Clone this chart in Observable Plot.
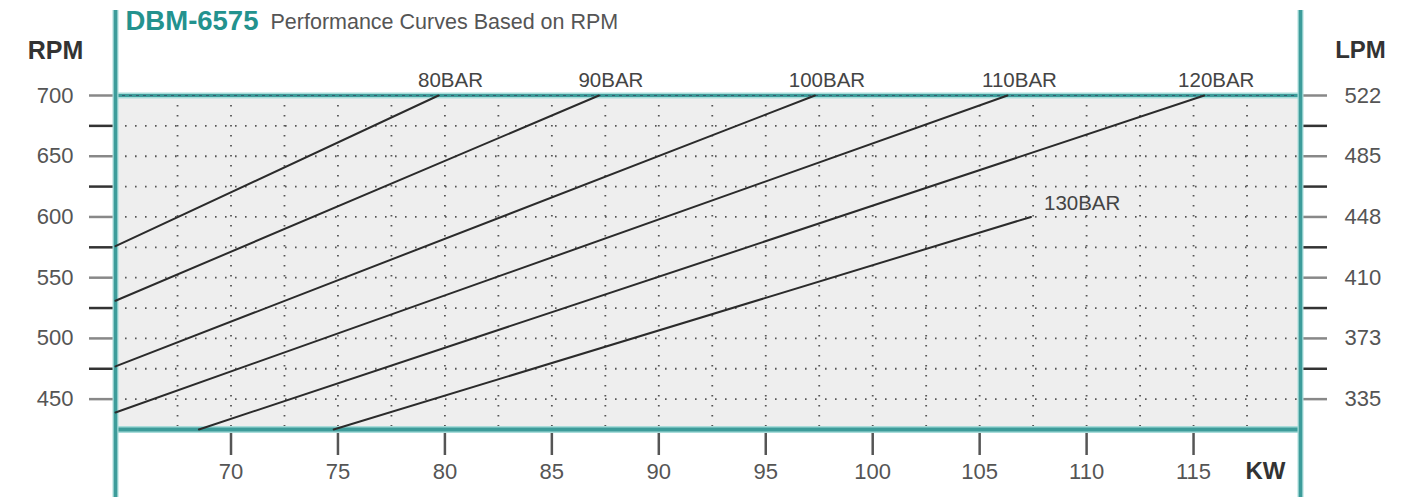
<!DOCTYPE html>
<html><head><meta charset="utf-8">
<script src="https://cdn.jsdelivr.net/npm/d3@7"></script>
<script src="https://cdn.jsdelivr.net/npm/@observablehq/plot@0.6"></script>
<style>html,body{margin:0;padding:0;background:#fff;}</style>
</head><body><div id="chart"></div>
<script>
// ---- data ----
const curveLabels = ["80BAR", "90BAR", "100BAR", "110BAR", "120BAR", "130BAR"];
const startKw  = [64.6, 64.6, 64.6, 64.6, 68.5, 74.8];
const startRpm = [576, 531, 477, 439, 425, 425];
const endKw    = [79.7, 87.2, 97.3, 106.3, 115.5, 107.4];
const endRpm   = [700, 700, 700, 700, 700, 600];

const rpmTicks = [450, 500, 550, 600, 650, 700];
const lpmLabels = [335, 373, 410, 448, 485, 522];
const rpmMinorTicks = [475, 525, 575, 625, 675];
const kwTicks = [70, 75, 80, 85, 90, 95, 100, 105, 110, 115];
const kwGrid = [67.5, 70, 72.5, 75, 77.5, 80, 82.5, 85, 87.5, 90, 92.5, 95, 97.5, 100, 102.5, 105, 107.5, 110, 112.5, 115, 117.5];
const rpmGrid = [450, 475, 500, 525, 550, 575, 600, 625, 650, 675, 700];
const kwDomain = [64.6, 120];
const rpmDomain = [425, 700];
const modelName = "DBM-6575";
const chartTitle = "Performance Curves Based on RPM";

// ---- derived tables ----
const segments = curveLabels.flatMap((c, i) => [
  {curve: c, kw: startKw[i], rpm: startRpm[i]},
  {curve: c, kw: endKw[i], rpm: endRpm[i]}
]);
const ends = curveLabels.map((c, i) => ({curve: c, kw: endKw[i], rpm: endRpm[i]}));
const topEnds = ends.filter(d => d.rpm === rpmDomain[1]);
const innerEnds = ends.filter(d => d.rpm !== rpmDomain[1]);
const lpmOf = new Map(rpmTicks.map((r, i) => [r, lpmLabels[i]]));

const teal = "#3d9c9a";
const tealHalo = "#a9dcda";
const FONT = "'Liberation Sans', Arial, sans-serif";

const chart = Plot.plot({
  width: 1419,
  height: 501,
  marginLeft: 115,
  marginRight: 119,
  marginTop: 95,
  marginBottom: 72,
  style: {fontFamily: FONT, background: "#fff", overflow: "visible"},
  x: {domain: kwDomain, label: null},
  y: {domain: rpmDomain, label: null},
  marks: [
    Plot.frame({fill: "#eeeeee", stroke: null}),
    // dotted grid
    Plot.ruleX(kwGrid, {stroke: "#555", strokeWidth: 1.8, strokeDasharray: "1.6,8.4"}),
    Plot.ruleY(rpmGrid, {stroke: "#555", strokeWidth: 1.8, strokeDasharray: "1.6,8.4"}),
    // axes
    Plot.axisY(rpmTicks, {anchor: "left", label: null, tickSize: 26, tickPadding: 16, fontSize: 22, stroke: "#888", strokeWidth: 2.5, color: "#555", tickFormat: d => d}),
    Plot.axisY(rpmMinorTicks, {anchor: "left", label: null, tickSize: 26, stroke: "#333", strokeWidth: 2.5, tickFormat: () => ""}),
    Plot.axisY(rpmTicks, {anchor: "right", label: null, tickSize: 26, tickPadding: 18, fontSize: 22, stroke: "#888", strokeWidth: 2.5, color: "#555", tickFormat: d => lpmOf.get(d)}),
    Plot.axisY(rpmMinorTicks, {anchor: "right", label: null, tickSize: 26, stroke: "#333", strokeWidth: 2.5, tickFormat: () => ""}),
    Plot.axisX(kwTicks, {anchor: "bottom", label: null, tickSize: 26, tickPadding: 8, fontSize: 22, stroke: "#555", strokeWidth: 2.5, color: "#555", tickFormat: d => d}),
    // teal borders
    Plot.ruleY([rpmDomain[0]], {stroke: tealHalo, strokeWidth: 7}),
    Plot.ruleY([rpmDomain[0]], {stroke: teal, strokeWidth: 4}),
    Plot.ruleY([rpmDomain[1]], {stroke: tealHalo, strokeWidth: 6}),
    Plot.ruleY([rpmDomain[1]], {stroke: teal, strokeWidth: 3}),
    Plot.ruleY([rpmDomain[1]], {stroke: "#335", strokeWidth: 1.2, strokeDasharray: "3,4", strokeOpacity: 0.6}),
    Plot.ruleX([kwDomain[0], kwDomain[1]], {stroke: tealHalo, strokeWidth: 6, insetTop: -85, insetBottom: -68}),
    Plot.ruleX([kwDomain[0], kwDomain[1]], {stroke: teal, strokeWidth: 3.5, insetTop: -85, insetBottom: -68}),
    // curves
    Plot.line(segments, {x: "kw", y: "rpm", z: "curve", stroke: "#2b2b2b", strokeWidth: 2}),
    Plot.text(topEnds, {x: "kw", y: "rpm", text: "curve", dx: 12, dy: -15, fontSize: 20.5, fill: "#444", textAnchor: "middle", lineAnchor: "middle"}),
    Plot.text(innerEnds, {x: "kw", y: "rpm", text: "curve", dx: 13, dy: -14, fontSize: 20.5, fill: "#444", textAnchor: "start", lineAnchor: "middle"}),
    // axis titles
    Plot.text(["RPM"], {frameAnchor: "top-left", dx: -60, dy: -45, fontSize: 25, fontWeight: "bold", fill: "#333", textAnchor: "middle", lineAnchor: "middle"}),
    Plot.text(["LPM"], {frameAnchor: "top-right", dx: 60, dy: -45, fontSize: 24, fontWeight: "bold", fill: "#333", textAnchor: "middle", lineAnchor: "middle"}),
    Plot.text(["KW"], {frameAnchor: "bottom-right", dx: -15, dy: 42, fontSize: 24, fontWeight: "bold", fill: "#333", textAnchor: "end", lineAnchor: "middle"}),
    // title
    Plot.text([modelName], {frameAnchor: "top-left", dx: 10, dy: -66, fontSize: 27.5, fontWeight: "bold", fill: "#23928e", textAnchor: "start", lineAnchor: "bottom"}),
    Plot.text([chartTitle], {frameAnchor: "top-left", dx: 155, dy: -67, fontSize: 21.5, fill: "#555", textAnchor: "start", lineAnchor: "bottom"})
  ]
});
document.getElementById("chart").appendChild(chart);
</script>
</body></html>
